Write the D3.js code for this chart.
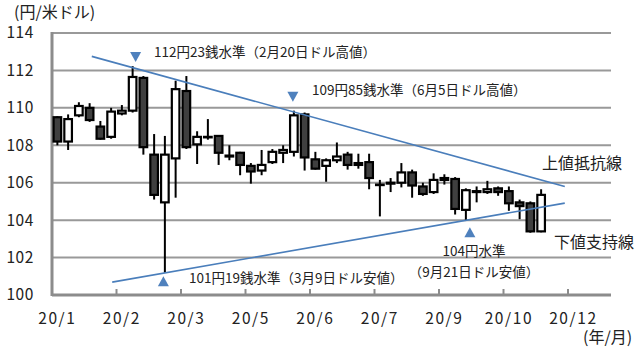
<!DOCTYPE html>
<html lang="ja">
<head>
<meta charset="UTF-8">
<title>ドル円 週足</title>
<script src="https://cdn.jsdelivr.net/npm/d3@7"></script>
<style>
  body { margin: 0; background: #fff; }
  text { font-family: "Noto Sans CJK JP", "Noto Sans", sans-serif; fill: #222; }
</style>
</head>
<body>
<script>
// weekly candles, 2020
var opens  = [109.5,108.2,109.6,110.0,109.0,108.45,109.7,109.85,111.6,107.5,104.95,107.3,110.9,108.05,108.45,108.5,107.4,107.6,106.9,106.65,107.1,107.6,107.65,109.65,107.25,106.9,107.2,107.5,107.05,107.1,105.9,105.95,106.0,106.55,105.8,105.5,106.25,106.2,104.55,105.5,105.5,105.7,105.55,104.95,104.9,103.4];
var highs  = [109.55,109.65,110.3,110.25,109.3,110.0,110.15,112.23,111.7,108.6,108.5,111.45,111.7,108.75,109.4,108.55,108.0,107.65,107.05,107.75,107.8,108.0,109.85,109.75,107.65,107.3,108.15,107.65,107.55,107.55,106.15,106.25,107.05,106.7,106.0,106.5,106.45,106.3,105.7,105.8,106.1,105.8,105.8,105.1,105.0,105.65];
var lows   = [108.0,107.75,109.5,109.25,108.3,108.35,109.6,109.75,107.5,105.1,101.19,105.2,107.8,107.0,108.3,106.95,107.2,106.4,105.95,106.4,107.0,107.05,107.4,106.65,106.7,106.05,107.05,106.7,106.75,105.65,104.2,105.5,105.75,105.2,105.3,105.4,105.9,104.3,104.0,104.95,105.4,105.3,104.5,104.05,103.33,103.35];
var closes = [108.2,109.4,110.1,109.35,108.35,109.8,109.85,111.65,107.9,105.35,107.5,111.0,107.9,108.45,108.45,107.6,107.45,106.95,106.6,106.95,107.65,107.75,109.6,107.35,106.75,107.2,107.4,106.95,106.95,106.25,105.9,106.0,106.55,105.85,105.4,106.15,106.15,104.6,105.6,105.55,105.65,105.5,104.9,104.75,103.4,105.35];

var nWeeks = 52;
var tickLabels = ["20/1","20/2","20/3","20/5","20/6","20/7","20/9","20/10","20/12"];
var yTicks = [100,102,104,106,108,110,112,114];

// trend lines: [week index, price]
var upperLine = [[3.2,112.75],[47.2,105.8]];
var lowerLine = [[5.1,100.69],[47.2,104.91]];

var w = 640, h = 354;
var padL = 52, padR = 611, padT = 33, padB = 295;

var svg = d3.select("body").append("svg")
  .attr("width", w).attr("height", h);

var x = d3.scaleBand()
  .domain(d3.range(nWeeks))
  .range([padL, padR])
  .paddingInner(0).paddingOuter(0);
var bw = x.bandwidth();
var cx = function(i) { return x(i) + bw / 2; };

var y = d3.scaleLinear().domain([100,114]).range([padB, padT]);

// grid
svg.selectAll("line.grid")
  .data(yTicks.slice(1))
  .enter().append("line")
  .attr("class","grid")
  .attr("x1", padL).attr("x2", padR)
  .attr("y1", function(d){ return y(d); })
  .attr("y2", function(d){ return y(d); })
  .attr("stroke", "#999").attr("stroke-width", 2);

// y labels
svg.selectAll("text.ylab")
  .data(yTicks)
  .enter().append("text")
  .attr("x", 34)
  .attr("y", function(d){ return y(d); })
  .attr("dy", "0.35em")
  .attr("text-anchor", "end")
  .style("font-size", "15.5px")
  .style("letter-spacing", "0.6px")
  .text(function(d){ return d; });

// axes lines
svg.append("line")
  .attr("x1", padL).attr("x2", padL).attr("y1", padT - 1).attr("y2", padB + 1)
  .attr("stroke", "#8c8c8c").attr("stroke-width", 3);
svg.append("line")
  .attr("x1", padL).attr("x2", padR).attr("y1", padB).attr("y2", padB)
  .attr("stroke", "#8c8c8c").attr("stroke-width", 3);

// x ticks every 6 weeks
var tickIdx = tickLabels.map(function(d, i){ return i * 6; });
svg.selectAll("line.xtick")
  .data(tickIdx.slice(1))
  .enter().append("line")
  .attr("x1", function(d){ return x(d); })
  .attr("x2", function(d){ return x(d); })
  .attr("y1", padB - 6).attr("y2", padB)
  .attr("stroke", "#8c8c8c").attr("stroke-width", 2);

svg.selectAll("text.xlab")
  .data(tickLabels)
  .enter().append("text")
  .attr("x", function(d, i){ return cx(i * 6); })
  .attr("y", 319)
  .attr("dy", "0.35em")
  .attr("text-anchor", "middle")
  .style("font-size", "15.5px")
  .style("letter-spacing", "1.6px")
  .text(function(d){ return d; });

// candles
var idx = d3.range(opens.length);
var g = svg.append("g");
g.selectAll("line.wick")
  .data(idx)
  .enter().append("line")
  .attr("x1", cx).attr("x2", cx)
  .attr("y1", function(i){ return y(highs[i]); })
  .attr("y2", function(i){ return y(lows[i]); })
  .attr("stroke", "#000").attr("stroke-width", 2);

g.selectAll("rect.body")
  .data(idx)
  .enter().append("rect")
  .attr("x", function(i){ return cx(i) - 3.8; })
  .attr("width", 7.6)
  .attr("y", function(i){ return y(Math.max(opens[i], closes[i])); })
  .attr("height", function(i){ return Math.max(0.5, Math.abs(y(opens[i]) - y(closes[i]))); })
  .attr("fill", function(i){ return closes[i] < opens[i] ? "#3f3f3f" : "#fff"; })
  .attr("stroke", "#000").attr("stroke-width", 2.2);

// trend lines
[upperLine, lowerLine].forEach(function(l){
  svg.append("line")
    .attr("x1", cx(0) + l[0][0] * bw).attr("y1", y(l[0][1]))
    .attr("x2", cx(0) + l[1][0] * bw).attr("y2", y(l[1][1]))
    .attr("stroke", "#4a7ebb").attr("stroke-width", 1.6);
});

// markers
function tri(px, py, down) {
  var s = 5.5, hgt = 10;
  var p = down
    ? [[px - s, py - hgt], [px + s, py - hgt], [px, py]]
    : [[px - s, py + hgt], [px + s, py + hgt], [px, py]];
  svg.append("path").attr("d", "M" + p.join("L") + "Z").attr("fill", "#4f81bd");
}
tri(cx(7) + 3, y(highs[7]) - 4, true);
tri(cx(22) - 1, y(highs[22]) - 9, true);
tri(cx(10) - 1.5, y(lows[10]) + 3.5, false);
tri(cx(38) + 4, y(lows[38]) + 7, false);

// annotations
var notes = [
  { t: "112円23銭水準（2月20日ドル高値）", x: 154, y: 52, a: "start", s: 13.5 },
  { t: "109円85銭水準（6月5日ドル高値）", x: 312, y: 90, a: "start", s: 13.5 },
  { t: "101円19銭水準（3月9日ドル安値）", x: 189, y: 278, a: "start", s: 13.5 },
  { t: "104円水準", x: 474, y: 251, a: "middle", s: 13.5 },
  { t: "（9月21日ドル安値）", x: 474, y: 272, a: "middle", s: 13.5 },
  { t: "上値抵抗線", x: 542, y: 163, a: "start", s: 16 },
  { t: "下値支持線", x: 554, y: 242, a: "start", s: 16 },
  { t: "(円/米ドル)", x: 14, y: 12, a: "start", s: 16 },
  { t: "(年/月)", x: 583, y: 337, a: "start", s: 16 }
];
svg.selectAll("text.note")
  .data(notes)
  .enter().append("text")
  .attr("x", function(d){ return d.x; })
  .attr("y", function(d){ return d.y; })
  .attr("dy", "0.35em")
  .attr("text-anchor", function(d){ return d.a; })
  .style("font-size", function(d){ return d.s + "px"; })
  .text(function(d){ return d.t; });
</script>
</body>
</html>
